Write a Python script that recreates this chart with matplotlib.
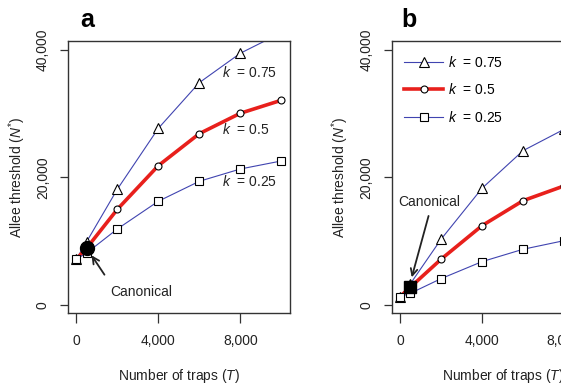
import numpy as np
import matplotlib
matplotlib.use("Agg")
import matplotlib.pyplot as plt

plt.rcParams['font.family'] = ['Liberation Sans', 'DejaVu Sans']
plt.rcParams['mathtext.fontset'] = 'custom'
plt.rcParams['mathtext.rm'] = 'Liberation Sans'
plt.rcParams['mathtext.it'] = 'Liberation Sans:italic'

# 罠の数
traps = [0, 500, 2000, 4000, 6000, 8000, 10000]

# パネル a
a_k75 = [7200, 9900, 18150, 27700, 34870, 39480, 42700]
a_k50 = [7200, 8900, 15000, 21850, 26870, 30070, 32110]
a_k25 = [7200, 8150, 11920, 16270, 19400, 21330, 22590]
a_canon = (500, 8890)

# パネル b
b_k75 = [1300, 3300, 10300, 18300, 24200, 27550, 30600]
b_k50 = [1300, 2780, 7170, 12440, 16360, 18670, 20600]
b_k25 = [1300, 1830, 4130, 6800, 8740, 10090, 11000]
b_canon = (500, 2780)

k_labels = ["0.75", "0.5", "0.25"]

blue = "#4044b0"
red = "#e8201c"
grey = "#333333"


def style_axes(ax):
    ax.set_xlim(-405, 10424)
    ax.set_ylim(-1255, 41400)
    ax.set_xticks([0, 4000, 8000])
    ax.set_xticklabels(["0", "4,000", "8,000"])
    ax.set_yticks([0, 20000, 40000])
    ax.set_yticklabels(["0", "20,000", "40,000"], rotation=90, va='center')
    ax.tick_params(axis='x', length=7, width=0.9, pad=8, labelsize=10, colors=grey, labelcolor='#222222')
    ax.tick_params(axis='y', length=6, width=0.9, pad=7, labelsize=10, colors=grey, labelcolor='#222222')
    for s in ax.spines.values():
        s.set_color(grey)
        s.set_linewidth(1.0)
    ax.set_xlabel("Number of traps ($\\mathit{T}$)", fontsize=10, color='#222222', labelpad=14)
    ax.set_ylabel("Allee threshold ($\\mathit{N}^{*}$)", fontsize=10, color='#222222', labelpad=6)


def draw_lines(ax, k75, k50, k25):
    l1, = ax.plot(traps, k75, color=blue, lw=0.8, marker='^', ms=7, mfc='white', mec='black', mew=0.8)
    l2, = ax.plot(traps, k50, color=red, lw=2.6, marker='o', ms=5, mfc='white', mec='black', mew=0.8)
    l3, = ax.plot(traps, k25, color=blue, lw=0.8, marker='s', ms=5.5, mfc='white', mec='black', mew=0.8)
    return l1, l2, l3


fig = plt.figure(figsize=(5.61, 3.9), dpi=100)
axa = fig.add_axes([0.1212, 0.1974, 0.3957, 0.6974])
axb = fig.add_axes([0.6982, 0.1974, 0.3957, 0.6974])

# パネル a
draw_lines(axa, a_k75, a_k50, a_k25)
axa.plot(*a_canon, marker='o', ms=10, color='black', zorder=5)
axa.annotate("", xy=(668, 8157), xytext=(1449, 4392),
             arrowprops=dict(arrowstyle='->', color='#222222', lw=1.3, mutation_scale=12))
axa.text(3190, 2086, "Canonical", ha='center', va='center', fontsize=10, color='#222222')
for y, lab in zip([36400, 27600, 19300], k_labels):
    axa.text(7107, y, "$\\mathit{k}$  = " + lab, ha='left', va='center', fontsize=10, color='#222222')
style_axes(axa)
axa.text(0.054, 1.051, "a", transform=axa.transAxes, fontsize=18, fontweight='bold', va='baseline')

# パネル b
lines = draw_lines(axb, b_k75, b_k50, b_k25)
axb.plot(*b_canon, marker='s', ms=8, color='black', zorder=5)
axb.annotate("", xy=(537, 3922), xytext=(1429, 14384),
             arrowprops=dict(arrowstyle='->', color='#222222', lw=1.3, mutation_scale=12))
axb.text(1415, 16200, "Canonical", ha='center', va='center', fontsize=10, color='#222222')
style_axes(axb)
axb.legend(lines, ["$\\mathit{k}$  = " + lab for lab in k_labels], loc='upper left',
           bbox_to_anchor=(0.02, 0.98), frameon=False, fontsize=10,
           handlelength=2.8, handletextpad=0.3, labelspacing=0.9, borderaxespad=0.2)
axb.text(0.045, 1.051, "b", transform=axb.transAxes, fontsize=18, fontweight='bold', va='baseline')

fig.savefig("out.png", dpi=100)
